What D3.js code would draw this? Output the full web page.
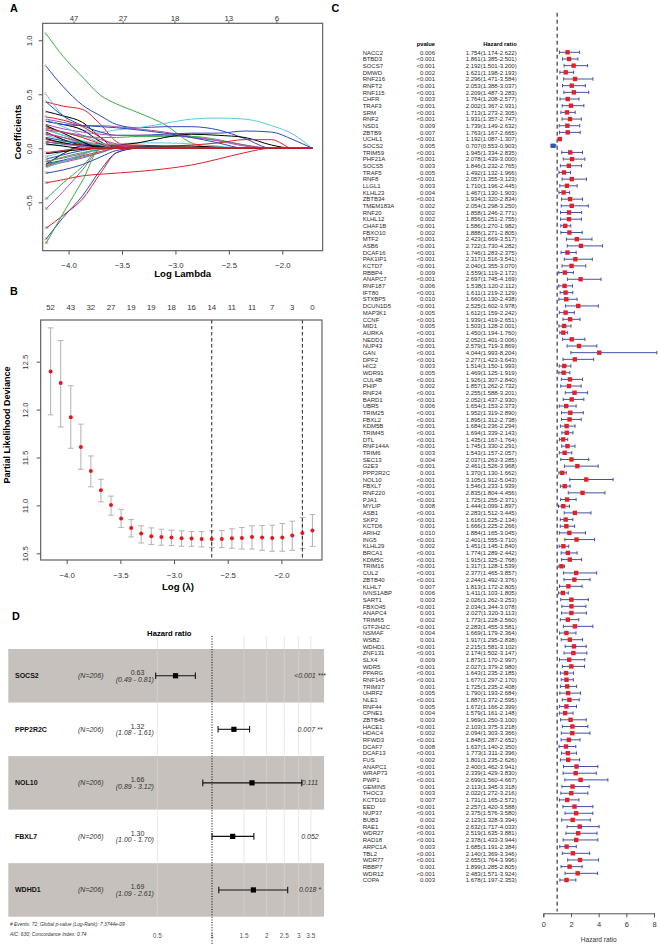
<!DOCTYPE html>
<html><head><meta charset="utf-8">
<script src="https://cdn.jsdelivr.net/npm/d3@7"></script>
<style>
body{margin:0;background:#fff;}
svg{display:block;font-family:"Liberation Sans",Arial,Helvetica,sans-serif;}
</style></head><body>
<svg id="fig" width="659" height="945"></svg>
<script>
// ================= DATA =================
// Panel A: LASSO coefficient paths (log lambda grid, one coefficient row per gene)
const lassoLogLambda = [-4.21,-4.05,-3.87,-3.70,-3.55,-3.35,-3.10,-2.85,-2.60,-2.35,-2.10,-1.90,-1.72];
const lassoPaths = [
 [0.34,0.30,0.24,0.10,0,0,0,0,0,0,0,0,0],
 [0.43,0.39,0.36,0.22,0.06,0,0,0,0,0,0,0,0],
 [1.06,0.85,0.66,0.49,0.41,0.33,0.22,0.05,0,0,0,0,0],
 [0.76,0.57,0.40,0.30,0.22,0.19,0.20,0.20,0.17,0.09,0,0,0],
 [0.50,0.30,0.17,0.15,0.17,0.19,0.23,0.27,0.28,0.27,0.21,0.13,0],
 [0.27,0.24,0.21,0.21,0.20,0.18,0.15,0.11,0.07,0.02,0,0,0],
 [0.25,0.22,0.17,0.06,0,0,0,0,0,0,0,0,0],
 [0.29,0.26,0.20,0.10,0.02,0,0,0,0,0,0,0,0],
 [0.20,0.15,0.11,0.10,0.10,0.11,0.11,0.11,0.08,0.03,0,0,0],
 [0.43,0.30,0.21,0.15,0.12,0.12,0.13,0.14,0.14,0.16,0.15,0.08,0],
 [0.12,0.08,0.05,0.04,0.04,0.05,0.05,0.04,0.02,0,0,0,0],
 [0.22,0.18,0.15,0.13,0.12,0.12,0.12,0.10,0.07,0.03,0,0,0],
 [0.15,0.08,0.03,0.02,0.03,0.05,0.10,0.13,0.12,0.10,0.03,0,0],
 [0.13,0.10,0.06,0.04,0.03,0.03,0.02,0.03,0.05,0.08,0.08,0,0],
 [0.17,0.12,0.06,0.01,0,0,0,0,0,0,0,0,0],
 [0.25,0.22,0.21,0.20,0.19,0.17,0.14,0.10,0.05,0,0,0,0],
 [-0.08,-0.03,0.02,0.03,0.03,0.02,0.01,0,0,0,0,0,0],
 [0.14,0.10,0.05,0,0,0,0,0,0,0,0,0,0],
 [0.06,0.04,0.03,0.02,0.02,0.02,0.02,0.02,0.01,0,0,0,0],
 [0.08,0.05,0.03,0.03,0.02,0.01,0,0,0,0,0,0,0],
 [0.05,0.06,0.05,0.03,0,0,0,0,0,0,0,0,0],
 [0.10,0.07,0.04,0.02,0,0,0,0,0,0,0,0,0],
 [-0.05,-0.02,0,0,0,0,0,0,0,0,0,0,0],
 [-0.12,-0.09,-0.05,-0.01,0,0,0,0,0,0,0,0,0],
 [-0.15,-0.05,0.02,0.02,0,0,0,0,0,0,0,0,0],
 [-0.16,-0.12,-0.07,-0.03,0,0,0,0,0,0,0,0,0],
 [-0.13,-0.08,-0.04,-0.01,0,0,0,0,0,0,0,0,0],
 [-0.10,-0.06,-0.02,0,0,0,0,0,0,0,0,0,0],
 [0.18,0.12,0.07,0.03,0,0,0,0,0,0,0,0,0],
 [-0.56,-0.40,-0.20,-0.01,0,0,0,0,0,0,0,0,0],
 [0.21,0.14,0.06,0,0,0,0,0,0,0,0,0,0],
 [-0.32,-0.29,-0.255,-0.24,-0.23,-0.215,-0.19,-0.155,-0.10,-0.04,0,0,0],
 [-0.15,-0.12,-0.08,-0.04,0,0,0,0,0,0,0,0,0],
 [-0.23,-0.20,-0.15,-0.08,-0.02,0,0,0,0,0,0,0,0],
 [0.27,0.20,0.12,0.05,0,0,0,0,0,0,0,0,0],
 [-0.17,-0.13,-0.09,-0.04,0,0,0,0,0,0,0,0,0],
 [0.09,0.05,0.02,0,0,0,0,0,0,0,0,0,0],
 [-0.74,-0.62,-0.47,-0.23,-0.04,0,0,0,0,0,0,0,0],
 [-0.47,-0.32,-0.17,0,0,0,0,0,0,0,0,0,0],
 [-0.84,-0.64,-0.44,-0.20,-0.04,0,0,0,0,0,0,0,0],
 [0.03,0.03,0.02,0,0,0,0,0,0,0,0,0,0],
 [0.06,0.04,0.02,0,0,0,0,0,0,0,0,0,0],
 [-0.05,-0.03,-0.01,0,0,0,0,0,0,0,0,0,0],
 [0.19,0.15,0.10,0.04,0,0,0,0,0,0,0,0,0],
 [-0.88,-0.60,-0.30,0,0,0,0,0,0,0,0,0,0],
 [-0.14,-0.11,-0.06,0,0,0,0,0,0,0,0,0,0],
 [-0.18,-0.12,-0.06,0,0,0,0,0,0,0,0,0,0],
 [0.17,0.15,0.12,0.08,0.04,0,0,0,0,0,0,0,0],
 [0.04,0.02,0,0,0,0,0,0,0,0,0,0,0],
 [-0.04,-0.02,0,0,0,0,0,0,0,0,0,0,0]
];
const lassoXTicks = [-4.0,-3.5,-3.0,-2.5,-2.0];
const lassoYTicks = [-0.5,0,0.5,1.0];
const lassoDfAt = [-3.953,-3.495,-3.009,-2.505,-2.056];
const lassoDfLabels = ["47","27","18","13","6"];

// Panel B: cross-validation curve
const cvLogLambda = [-4.150,-4.056,-3.962,-3.868,-3.775,-3.681,-3.587,-3.493,-3.399,-3.306,-3.212,-3.118,-3.024,-2.930,-2.837,-2.743,-2.649,-2.555,-2.461,-2.368,-2.274,-2.180,-2.086,-1.992,-1.899,-1.805,-1.711];
const cvMean  = [12.398,12.277,11.921,11.610,11.359,11.157,11.003,10.863,10.765,10.706,10.678,10.671,10.664,10.657,10.654,10.650,10.650,10.650,10.657,10.660,10.671,10.664,10.660,10.664,10.685,10.713,10.738];
const cvUpper = [12.853,12.720,12.249,11.848,11.516,11.272,11.097,10.958,10.853,10.786,10.765,10.751,10.741,10.734,10.727,10.727,10.734,10.738,10.755,10.769,10.786,10.790,10.793,10.811,10.835,10.874,10.905];
const cvLower = [11.945,11.819,11.596,11.376,11.194,11.037,10.898,10.769,10.671,10.608,10.591,10.584,10.581,10.573,10.573,10.566,10.560,10.560,10.552,10.545,10.545,10.531,10.521,10.521,10.531,10.549,10.573];
const cvNzero = ["52","43","32","27","19","19","18","16","14","11","11","7","3","0"];
const cvNzeroLambda = [-4.150,-3.962,-3.775,-3.587,-3.399,-3.212,-3.024,-2.837,-2.649,-2.461,-2.274,-2.086,-1.899,-1.711];
const cvLambdaMin = -2.649, cvLambda1se = -1.805;
const cvXTicks = [-4.0,-3.5,-3.0,-2.5,-2.0];
const cvYTicks = [10.5,11.0,11.5,12.0,12.5];

// Panel C: univariate Cox results
const uniGenes = ["NACC2","BTBD3","SOCS7","DMWD","RNF216","RNFT2","RNF115","CHFR","TRAF3","SRM","RNF2","NSD1","ZBTB9","UCHL1","SOCS2","TRIM59","PHF21A","SOCS5","TRAF5","RNF8","LLGL1","KLHL23","ZBTB34","TMEM183A","RNF20","KLHL12","CHAF1B","FBXO10","MTF2","ASB6","DCAF16","PAK1IP1","KCTD7","RBBP4","ANAPC7","RNF187","IFT80","STXBP5","DCUN1D5","MAP3K1","CCNF","MID1","AURKA","NEDD1","NUP43","GAN","DPF2","HIC2","WDR91","CUL4B","PHIP","RNF24","BARD1","UBR5","TRIM25","FBXL2","KDM5B","TRIM45","DTL","RNF144A","TRIM6","SEC13","G2E3","PPP2R2C","NOL10","FBXL7","RNF220","PJA1","MYLIP","ASB1","SKP2","KCTD6","ARIH2","ING5","KLHL29","BRCA1","KDM5C","TRIM16","CUL2","ZBTB40","KLHL7","IVNS1ABP","SART1","FBXO45","ANAPC4","TRIM65","GTF2H2C","NSMAF","WSB2","WDHD1","ZNF131","SLX4","WDR5","PPARG","RNF145","TRIM37","UHRF2","NLE1","RNF44","CPNE1","ZBTB45","HACE1","HDAC4","RFWD3","DCAF7","DCAF13","FUS","ANAPC1","WRAP73","PWP1","GEMIN5","THOC3","KCTD10","EED","NUP37","BUB3","RAE1","WDR27","RAD18","ARPC1A","TBL2","WDR77","RBBP7","WDR12","COPA"];
const uniP = ["0.006","<0.001","<0.001","0.002","<0.001","<0.001","<0.001","0.003","<0.001","<0.001","<0.001","0.009","0.007","<0.001","0.005","<0.001","<0.001","0.003","0.005","<0.001","0.003","0.004","<0.001","0.002","0.002","0.002","<0.001","0.002","<0.001","<0.001","<0.001","<0.001","<0.001","0.009","<0.001","0.006","<0.001","0.010","<0.001","0.005","<0.001","0.005","<0.001","<0.001","<0.001","<0.001","<0.001","0.003","0.005","<0.001","0.002","<0.001","<0.001","0.006","<0.001","<0.001","<0.001","<0.001","<0.001","<0.001","0.003","0.004","<0.001","0.001","<0.001","<0.001","<0.001","<0.001","0.008","<0.001","<0.001","0.001","0.010","<0.001","0.002","<0.001","<0.001","<0.001","<0.001","<0.001","0.007","0.006","0.003","<0.001","0.001","0.002","<0.001","0.004","0.001","<0.001","<0.001","0.009","<0.001","<0.001","<0.001","0.001","0.005","<0.001","0.005","0.004","0.003","<0.001","0.002","<0.001","0.008","<0.001","0.002","<0.001","<0.001","<0.001","0.001","0.003","0.007","<0.001","<0.001","0.002","<0.001","<0.001","<0.001","0.003","<0.001","<0.001","0.001","<0.001","0.003"];
const uniHR = [1.754,1.861,2.192,1.621,2.296,2.053,2.209,1.764,2.002,1.713,1.931,1.739,1.763,1.192,0.707,1.945,2.078,1.846,1.492,2.057,1.710,1.467,1.934,2.054,1.858,1.856,1.586,1.888,2.423,2.722,1.746,2.317,2.040,1.559,2.697,1.538,1.611,1.660,2.525,1.612,1.939,1.503,1.450,2.052,2.579,4.044,2.277,1.514,1.469,1.926,1.857,2.255,2.052,1.654,1.952,1.895,1.684,1.694,1.435,1.745,1.543,2.037,2.461,1.370,3.105,1.546,2.835,1.725,1.444,2.283,1.616,1.666,1.884,2.401,1.451,1.774,1.915,1.317,2.377,2.244,1.813,1.411,2.026,2.034,2.027,1.773,2.283,1.669,1.917,2.215,2.174,1.873,2.027,1.643,1.677,1.725,1.790,1.887,1.672,1.579,1.969,2.103,2.094,1.848,1.637,1.773,1.801,2.400,2.339,2.699,2.113,2.022,1.731,2.257,2.375,2.123,2.632,2.519,2.378,1.685,2.140,2.655,1.899,2.483,1.678];
const uniLo = [1.174,1.385,1.501,1.198,1.471,1.388,1.487,1.208,1.367,1.273,1.357,1.149,1.167,1.087,0.553,1.334,1.439,1.232,1.132,1.355,1.196,1.130,1.320,1.298,1.246,1.251,1.270,1.271,1.669,1.730,1.283,1.516,1.355,1.119,1.745,1.120,1.219,1.130,1.602,1.159,1.419,1.128,1.194,1.401,1.719,1.993,1.423,1.150,1.125,1.307,1.262,1.588,1.437,1.153,1.319,1.312,1.236,1.339,1.167,1.330,1.157,1.263,1.526,1.130,1.912,1.233,1.804,1.255,1.099,1.512,1.225,1.225,1.165,1.555,1.145,1.289,1.325,1.128,1.465,1.492,1.172,1.103,1.262,1.344,1.320,1.228,1.455,1.179,1.295,1.581,1.502,1.170,1.379,1.235,1.297,1.235,1.193,1.372,1.166,1.161,1.250,1.375,1.303,1.287,1.140,1.311,1.235,1.462,1.429,1.560,1.345,1.272,1.165,1.420,1.576,1.328,1.717,1.635,1.433,1.191,1.369,1.764,1.285,1.571,1.197];
const uniHi = [2.622,2.501,3.200,2.193,3.584,3.037,3.283,2.577,2.931,2.305,2.747,2.632,2.665,1.307,0.903,2.835,3.000,2.765,1.966,3.123,2.445,1.903,2.834,3.250,2.771,2.755,1.982,2.805,3.517,4.282,2.375,3.541,3.070,2.172,4.169,2.112,2.129,2.438,3.978,2.242,2.651,2.001,1.760,3.006,3.869,8.204,3.643,1.993,1.919,2.840,2.732,3.201,2.930,2.373,2.890,2.738,2.294,2.143,1.764,2.291,2.057,3.285,3.968,1.662,5.043,1.939,4.456,2.371,1.897,3.445,2.134,2.266,3.045,3.710,1.840,2.442,2.768,1.539,3.857,3.376,2.805,1.805,3.253,3.078,3.113,2.560,3.581,2.364,2.838,3.102,3.147,2.997,2.980,2.185,2.170,2.408,2.684,2.595,2.399,2.148,3.100,3.218,3.366,2.652,2.350,2.396,2.626,3.941,3.830,4.667,3.318,3.216,2.572,3.588,3.580,3.394,4.033,3.881,3.944,2.384,3.346,3.996,2.805,3.924,2.353];
const uniXTicks = [0,2,4,6,8];

// Panel D: multivariate Cox model
const coxGenes = ["SOCS2","PPP2R2C","NOL10","FBXL7","WDHD1"];
const coxN = [206,206,206,206,206];
const coxHR = [0.63,1.32,1.66,1.30,1.69];
const coxLo = [0.49,1.08,0.89,1.00,1.09];
const coxHi = [0.81,1.61,3.12,1.70,2.61];
const coxP = ["<0.001","0.007","0.111","0.052","0.018"];
const coxStars = ["***","**","","","*"];
const coxXTicks = [0.5,1,1.5,2,2.5,3,3.5];
const coxNotes = ["# Events: 72; Global p-value (Log-Rank): 7.3744e-09","AIC: 630; Concordance Index: 0.74"];

// ================= DRAW =================
const svg = d3.select("#fig");
const rPalette = ["#000000","#e3202a","#3aad47","#2a4bb3","#5cc9dc","#b04db4"];
const axisCol = "#555";
const fmt1 = d3.format(".1f");

function styleAxis(g, fs){
  g.attr("font-family",null).attr("font-size",fs);
  g.selectAll(".tick line").attr("stroke",axisCol);
  g.selectAll(".tick text").attr("fill","#333");
  g.select(".domain").remove();
}

// ---------- Panel A ----------
const gA = svg.append("g");
const xA = d3.scaleLinear().domain([-4.242,-1.622]).range([42.7,322.7]);
const yA = d3.scaleLinear().domain([-0.948,1.157]).range([250.7,23.3]);
const lineA = d3.line().x((d,i)=>xA(lassoLogLambda[i])).y(d=>yA(d)).curve(d3.curveMonotoneX);
gA.append("g").selectAll("path").data(lassoPaths).join("path")
  .attr("d",lineA).attr("fill","none")
  .attr("stroke",(d,i)=>rPalette[i%6]).attr("stroke-width",1);
// tiny variable-index labels at the left end of the paths (keep only those that do not collide)
const startLabels = lassoPaths.map((d,i)=>({i, y:yA(d[0])})).sort((a,b)=>a.y-b.y);
const keptLabels = [];
startLabels.forEach(d=>{ if(!keptLabels.length || d.y-keptLabels[keptLabels.length-1].y>=4.2) keptLabels.push(d); });
gA.append("g").selectAll("text").data(keptLabels).join("text")
  .attr("x",xA(lassoLogLambda[0])-1.5).attr("y",d=>d.y+1.1)
  .attr("font-size",3.2).attr("fill","#666").text(d=>d.i+1);
gA.append("rect").attr("x",42.7).attr("y",23.3).attr("width",280).attr("height",227.4)
  .attr("fill","none").attr("stroke",axisCol).attr("stroke-width",1.1);
const axA_b = gA.append("g").attr("transform","translate(0,250.7)")
  .call(d3.axisBottom(xA).tickValues(lassoXTicks).tickSize(4).tickPadding(7.5).tickFormat(fmt1));
styleAxis(axA_b,7.8);
const axA_t = gA.append("g").attr("transform","translate(0,23.3)")
  .call(d3.axisTop(xA).tickValues(lassoDfAt).tickSize(2).tickPadding(0.6).tickFormat((d,i)=>lassoDfLabels[i]));
styleAxis(axA_t,7.8);
const axA_l = gA.append("g").attr("transform","translate(42.7,0)")
  .call(d3.axisLeft(yA).tickValues(lassoYTicks).tickSize(4).tickFormat(fmt1));
styleAxis(axA_l,7.8);
axA_l.selectAll(".tick text").attr("transform","rotate(-90)").attr("x",0).attr("y",-11).attr("dy",0).attr("text-anchor","middle");
gA.append("text").attr("x",182.7).attr("y",277).attr("text-anchor","middle")
  .attr("font-weight","bold").attr("font-size",9.6).text("Log Lambda");
gA.append("text").attr("transform","translate(20.5,132) rotate(-90)").attr("text-anchor","middle")
  .attr("font-weight","bold").attr("font-size",9.6).text("Coefficients");
svg.append("text").attr("x",10).attr("y",11.5).attr("font-weight","bold").attr("font-size",10.8).text("A");

// ---------- Panel B ----------
const gB = svg.append("g");
const xB = d3.scaleLinear().domain([-4.242,-1.622]).range([40.7,322]);
const yB = d3.scaleLinear().domain([10.43,12.935]).range([560,320]);
const cv = cvLogLambda.map((l,i)=>({l, m:cvMean[i], u:cvUpper[i], lo:cvLower[i]}));
const eb = gB.append("g").attr("stroke","#b8b8b8").attr("stroke-width",1.1);
eb.selectAll("line.v").data(cv).join("line").attr("class","v")
  .attr("x1",d=>xB(d.l)).attr("x2",d=>xB(d.l)).attr("y1",d=>yB(d.u)).attr("y2",d=>yB(d.lo));
eb.selectAll("line.cu").data(cv).join("line").attr("class","cu")
  .attr("x1",d=>xB(d.l)-2.8).attr("x2",d=>xB(d.l)+2.8).attr("y1",d=>yB(d.u)).attr("y2",d=>yB(d.u));
eb.selectAll("line.cl").data(cv).join("line").attr("class","cl")
  .attr("x1",d=>xB(d.l)-2.8).attr("x2",d=>xB(d.l)+2.8).attr("y1",d=>yB(d.lo)).attr("y2",d=>yB(d.lo));
gB.selectAll("line.dash").data([cvLambdaMin,cvLambda1se]).join("line").attr("class","dash")
  .attr("x1",d=>xB(d)).attr("x2",d=>xB(d)).attr("y1",320).attr("y2",560)
  .attr("stroke","#222").attr("stroke-width",1).attr("stroke-dasharray","3.5,2.5");
gB.selectAll("circle").data(cv).join("circle")
  .attr("cx",d=>xB(d.l)).attr("cy",d=>yB(d.m)).attr("r",2).attr("fill","#e8141c");
gB.append("rect").attr("x",40.7).attr("y",320).attr("width",281.3).attr("height",240)
  .attr("fill","none").attr("stroke",axisCol).attr("stroke-width",1.1);
const axB_b = gB.append("g").attr("transform","translate(0,560)")
  .call(d3.axisBottom(xB).tickValues(cvXTicks).tickSize(4).tickPadding(8.5).tickFormat(fmt1));
styleAxis(axB_b,7.8);
const axB_l = gB.append("g").attr("transform","translate(40.7,0)")
  .call(d3.axisLeft(yB).tickValues(cvYTicks).tickSize(4).tickFormat(fmt1));
styleAxis(axB_l,7.8);
axB_l.selectAll(".tick text").attr("transform","rotate(-90)").attr("x",0).attr("y",-13).attr("dy",0).attr("text-anchor","middle");
gB.selectAll("text.nz").data(cvNzero).join("text").attr("class","nz")
  .attr("x",(d,i)=>xB(cvNzeroLambda[i])).attr("y",310).attr("text-anchor","middle")
  .attr("font-size",7.8).attr("fill","#333").text(d=>d);
gB.append("text").attr("x",178).attr("y",589.5).attr("text-anchor","middle")
  .attr("font-weight","bold").attr("font-size",9.6).text("Log (\u03bb)");
gB.append("text").attr("transform","translate(9.5,425) rotate(-90)").attr("text-anchor","middle")
  .attr("font-weight","bold").attr("font-size",9).text("Partial Likelihood Deviance");
svg.append("text").attr("x",10).attr("y",294.5).attr("font-weight","bold").attr("font-size",10.8).text("B");

// ---------- Panel C ----------
const gC = svg.append("g");
const rowsC = uniGenes.map((g,i)=>({g, p:uniP[i], hr:uniHR[i], lo:uniLo[i], hi:uniHi[i]}));
const yC = d3.scalePoint().domain(uniGenes).range([52.3,880]);
const xC = d3.scaleLinear().domain([0,8]).range([543.3,654]);
const f3 = d3.format(".3f");
const tC = gC.append("g").attr("font-size",6).attr("fill","#2a2a2a");
tC.selectAll("text.g").data(rowsC).join("text").attr("class","g")
  .attr("x",362.7).attr("y",d=>yC(d.g)+2.2).text(d=>d.g);
tC.selectAll("text.p").data(rowsC).join("text").attr("class","p")
  .attr("x",435).attr("y",d=>yC(d.g)+2.2).attr("text-anchor","end").text(d=>d.p);
tC.selectAll("text.h").data(rowsC).join("text").attr("class","h")
  .attr("x",516.7).attr("y",d=>yC(d.g)+2.2).attr("text-anchor","end")
  .text(d=>`${f3(d.hr)}(${f3(d.lo)}-${f3(d.hi)})`);
gC.append("text").attr("x",435).attr("y",46).attr("text-anchor","end").attr("font-weight","bold").attr("font-size",5.8).text("pvalue");
gC.append("text").attr("x",516.7).attr("y",46).attr("text-anchor","end").attr("font-weight","bold").attr("font-size",5.8).text("Hazard ratio");
gC.append("line").attr("x1",xC(1)).attr("x2",xC(1)).attr("y1",12.7).attr("y2",911.5)
  .attr("stroke","#111").attr("stroke-width",1).attr("stroke-dasharray","4,3");
const ciC = gC.append("g").attr("stroke","#41529f").attr("stroke-width",1);
ciC.selectAll("line.ci").data(rowsC).join("line").attr("class","ci")
  .attr("x1",d=>xC(d.lo)).attr("x2",d=>xC(d.hi)).attr("y1",d=>yC(d.g)).attr("y2",d=>yC(d.g));
ciC.selectAll("line.c1").data(rowsC).join("line").attr("class","c1")
  .attr("x1",d=>xC(d.lo)).attr("x2",d=>xC(d.lo)).attr("y1",d=>yC(d.g)-1.7).attr("y2",d=>yC(d.g)+1.7);
ciC.selectAll("line.c2").data(rowsC).join("line").attr("class","c2")
  .attr("x1",d=>xC(d.hi)).attr("x2",d=>xC(d.hi)).attr("y1",d=>yC(d.g)-1.7).attr("y2",d=>yC(d.g)+1.7);
gC.selectAll("rect.pt").data(rowsC).join("rect").attr("class","pt")
  .attr("x",d=>xC(d.hr)-2.2).attr("y",d=>yC(d.g)-2.2).attr("width",4.4).attr("height",4.4)
  .attr("fill",d=>d.hr<1?"#2f56b0":"#e3202a");
const axC = gC.append("g").attr("transform","translate(0,913.3)")
  .call(d3.axisBottom(xC).tickValues(uniXTicks).tickSize(4).tickPadding(4.5).tickFormat(d3.format("d")));
axC.attr("font-family",null).attr("font-size",7.5);
axC.select(".domain").attr("stroke",axisCol);
axC.selectAll(".tick line").attr("stroke",axisCol);
axC.selectAll(".tick text").attr("fill","#333");
gC.append("text").attr("x",598.7).attr("y",942.3).attr("text-anchor","middle").attr("font-size",6.6).attr("fill","#333").text("Hazard ratio");
svg.append("text").attr("x",331.5).attr("y",11.5).attr("font-weight","bold").attr("font-size",10.8).text("C");

// ---------- Panel D ----------
const gD = svg.append("g");
const rowsD = coxGenes.map((g,i)=>({g, n:coxN[i], hr:coxHR[i], lo:coxLo[i], hi:coxHi[i], p:coxP[i], s:coxStars[i]}));
const xD = d3.scaleLog().domain([0.4,3.7]).range([212+54.7*Math.log2(0.4),212+54.7*Math.log2(3.7)]);
const yD = d3.scaleBand().domain(coxGenes).range([649,916.7]);
const cy = g => yD(g)+yD.bandwidth()/2;
gD.selectAll("rect.band").data(rowsD.filter((d,i)=>i%2===0)).join("rect").attr("class","band")
  .attr("x",8.3).attr("width",315.7).attr("y",d=>yD(d.g)).attr("height",yD.bandwidth()).attr("fill","#c6c1bc");
gD.selectAll("line.grid").data(coxXTicks.filter(v=>v!==1)).join("line").attr("class","grid")
  .attr("x1",d=>xD(d)).attr("x2",d=>xD(d)).attr("y1",636).attr("y2",916.7)
  .attr("stroke","#d9d9d9").attr("stroke-width",0.6);
gD.append("line").attr("x1",xD(1)).attr("x2",xD(1)).attr("y1",636).attr("y2",945)
  .attr("stroke","#111").attr("stroke-width",1.1).attr("stroke-dasharray","1,1.6");
const ciD = gD.append("g").attr("stroke","#111").attr("stroke-width",1.1);
ciD.selectAll("line.ci").data(rowsD).join("line").attr("class","ci")
  .attr("x1",d=>xD(d.lo)).attr("x2",d=>xD(d.hi)).attr("y1",d=>cy(d.g)).attr("y2",d=>cy(d.g));
ciD.selectAll("line.c1").data(rowsD).join("line").attr("class","c1")
  .attr("x1",d=>xD(d.lo)).attr("x2",d=>xD(d.lo)).attr("y1",d=>cy(d.g)-3.3).attr("y2",d=>cy(d.g)+3.3);
ciD.selectAll("line.c2").data(rowsD).join("line").attr("class","c2")
  .attr("x1",d=>xD(d.hi)).attr("x2",d=>xD(d.hi)).attr("y1",d=>cy(d.g)-3.3).attr("y2",d=>cy(d.g)+3.3);
gD.selectAll("rect.pt").data(rowsD).join("rect").attr("class","pt")
  .attr("x",d=>xD(d.hr)-2.6).attr("y",d=>cy(d.g)-2.6).attr("width",5.2).attr("height",5.2).attr("fill","#000");
const tD = gD.append("g").attr("font-size",7);
tD.selectAll("text.g").data(rowsD).join("text").attr("class","g")
  .attr("x",15).attr("y",d=>cy(d.g)+2.5).attr("font-weight","bold").attr("fill","#111").text(d=>d.g);
tD.selectAll("text.n").data(rowsD).join("text").attr("class","n")
  .attr("x",78).attr("y",d=>cy(d.g)+2.5).attr("font-style","italic").attr("fill","#333").text(d=>`(N=${d.n})`);
tD.selectAll("text.hr").data(rowsD).join("text").attr("class","hr")
  .attr("x",137.5).attr("y",d=>cy(d.g)-0.8).attr("text-anchor","middle").attr("fill","#333").text(d=>d3.format(".2f")(d.hr));
tD.selectAll("text.ci").data(rowsD).join("text").attr("class","ci")
  .attr("x",134.8).attr("y",d=>cy(d.g)+5.8).attr("text-anchor","middle").attr("font-style","italic").attr("fill","#333")
  .text(d=>`(${d3.format(".2f")(d.lo)} - ${d3.format(".2f")(d.hi)})`);
tD.selectAll("text.p").data(rowsD).join("text").attr("class","p")
  .attr("x",310).attr("y",d=>cy(d.g)+2.3).attr("text-anchor","middle").attr("font-style","italic").attr("fill","#333")
  .text(d=>d.s?`${d.p} ${d.s}`:d.p);
gD.selectAll("text.tick").data(coxXTicks).join("text").attr("class","tick")
  .attr("x",d=>xD(d)).attr("y",937.5).attr("text-anchor","middle").attr("font-size",6.5).attr("fill","#555").text(d=>d);
gD.selectAll("text.note").data(coxNotes).join("text").attr("class","note")
  .attr("x",10).attr("y",(d,i)=>926.2+i*9.3).attr("font-size",4.9).attr("font-style","italic").attr("fill","#333").text(d=>d);
gD.append("text").attr("x",169.3).attr("y",635.5).attr("text-anchor","middle")
  .attr("font-weight","bold").attr("font-size",7.7).text("Hazard ratio");
svg.append("text").attr("x",12).attr("y",620).attr("font-weight","bold").attr("font-size",10.8).text("D");
</script>
</body></html>
